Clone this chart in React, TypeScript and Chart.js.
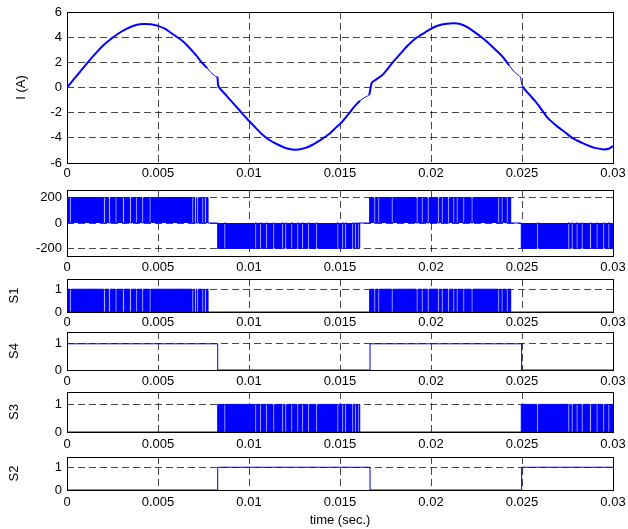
import React, { useEffect, useRef } from 'react';
import { Chart, registerables } from 'chart.js';

Chart.register(...registerables);

// ---------- data ----------
const X_TICKS = [0, 0.005, 0.01, 0.015, 0.02, 0.025, 0.03];
const X_TICK_LABELS = ['0', '0.005', '0.01', '0.015', '0.02', '0.025', '0.03'];

const I_TICKS = [-6, -4, -2, 0, 2, 4, 6];
const V_TICKS = [-200, 0, 200];
const S_TICKS = [0, 1];

// load current (A)
const I_TIME = [
  0, 0.0004, 0.0008, 0.0012, 0.0016, 0.002, 0.0025, 0.003, 0.0034, 0.0038, 0.0042, 0.0046, 0.005, 0.0054, 0.0058,
  0.0063, 0.0067, 0.0071, 0.0074, 0.0077, 0.0079, 0.00815, 0.00826,
  0.00832, 0.0087, 0.0091, 0.0095, 0.0099, 0.0103, 0.0107, 0.0111, 0.0116, 0.0121, 0.0126, 0.0131, 0.0135,
  0.014, 0.0144, 0.0148, 0.0151, 0.0155, 0.0158, 0.0161, 0.0164, 0.0166,
  0.01675, 0.017, 0.0173, 0.0176, 0.0179, 0.0183, 0.0187, 0.0192, 0.0197, 0.0201, 0.0206, 0.0212, 0.0216,
  0.022, 0.0224, 0.0229, 0.0234, 0.0239, 0.0243, 0.0246, 0.0249,
  0.02502, 0.0254, 0.0257, 0.026, 0.0264, 0.0269, 0.0274, 0.0278, 0.0283, 0.0287, 0.029, 0.0295, 0.0298, 0.03,
];
const I_AMPS = [
  0, 0.7, 1.4, 2.1, 2.75, 3.35, 3.95, 4.45, 4.75, 4.97, 5.05, 5.02, 4.9, 4.65, 4.25,
  3.75, 3.2, 2.55, 2.0, 1.55, 1.2, 0.9, 0.85,
  0.1, -0.55, -1.2, -1.85, -2.5, -3.1, -3.7, -4.15, -4.55, -4.85, -4.95, -4.8, -4.55,
  -4.1, -3.7, -3.15, -2.75, -2.05, -1.5, -1.05, -0.75, -0.6,
  0.4, 0.65, 0.95, 1.45, 2.0, 2.65, 3.3, 3.95, 4.4, 4.75, 5.0, 5.1, 5.05,
  4.8, 4.4, 3.85, 3.2, 2.5, 1.75, 1.2, 0.85,
  0.1, -0.55, -1.05, -1.6, -2.4, -3.05, -3.6, -4.05, -4.4, -4.65, -4.8, -4.92, -4.85, -4.65,
];

// PWM switching blocks (start, end) and visible wide off-gaps inside them
const BLOCK_A = [0.00005, 0.00775];
const GAPS_A = [0.00016, 0.00202, 0.00229, 0.00265, 0.00306, 0.00345, 0.00379, 0.00412, 0.00452, 0.00687, 0.00702, 0.00714, 0.00742, 0.00757];
const BLOCK_B = [0.00828, 0.01608];
const GAPS_B = [0.00863, 0.01033, 0.0106, 0.01093, 0.01132, 0.01181, 0.01198, 0.01231, 0.01264, 0.01291, 0.01324, 0.01368, 0.01484, 0.01511, 0.01527, 0.01566, 0.01582, 0.01599];
const BLOCK_C = [0.01663, 0.02438];
const GAPS_C = [0.01687, 0.01709, 0.01782, 0.01919, 0.01947, 0.0198, 0.02038, 0.02057, 0.02093, 0.02121, 0.02139, 0.02176, 0.02221, 0.02368, 0.02386, 0.02414];
const BLOCK_D = [0.02496, 0.03];
const GAPS_D = [0.02582, 0.02753, 0.02771, 0.02798, 0.02826, 0.02872, 0.02908, 0.02945, 0.02973];
const VDC = 200;
const GAP_W = 0.00009;

// low-frequency switches (value holds from each time to the next)
const S4_TIME = [0, 0.00828, 0.01665, 0.02498, 0.03];
const S4_VAL = [1, 0, 1, 0, 0];
const S2_TIME = [0, 0.00828, 0.01665, 0.02498, 0.03];
const S2_VAL = [0, 1, 0, 1, 1];

// ---------- styling ----------
const FONT = { family: '"Liberation Sans", Arial, sans-serif', size: 13 };
const BLUE = '#0000ff';
const GRID = 'rgba(0,0,0,0.72)';
const PAD_T = 10;
const PLOT_LEFT = 67;
const PAD_R = 15;
const W = 628;

type Block = { range: number[]; gaps: number[]; level: number };

// with stepped:'after' each interval takes the value of the point that ends it
function pwmPoints(blocks: Block[]) {
  const pts: { x: number; y: number }[] = [{ x: 0, y: 0 }];
  blocks.forEach((b) => {
    pts.push({ x: b.range[0], y: 0 });
    b.gaps.forEach((g) => {
      pts.push({ x: g, y: b.level });
      pts.push({ x: g + GAP_W, y: 0 });
    });
    pts.push({ x: b.range[1], y: b.level });
  });
  pts.push({ x: 0.03, y: 0 });
  return pts;
}

function pwmDataset(blocks: Block[]) {
  return {
    data: pwmPoints(blocks),
    stepped: 'after' as const,
    borderColor: BLUE,
    backgroundColor: BLUE,
    borderWidth: 1,
    fill: 'origin',
    pointRadius: 0,
  };
}

function stepDataset(times: number[], vals: number[]) {
  return {
    data: times.map((t, i) => ({ x: t, y: vals[i] })),
    stepped: 'before' as const,
    borderColor: BLUE,
    borderWidth: 1,
    fill: false,
    pointRadius: 0,
  };
}

const ALL_BLOCKS = [BLOCK_A, BLOCK_B, BLOCK_C, BLOCK_D];
function isQuiet(t: number) {
  return !ALL_BLOCKS.some((b) => t > b[0] && t < b[1]);
}

const currentDataset = {
  data: I_TIME.map((t, i) => ({ x: t, y: I_AMPS[i] })),
  borderColor: BLUE,
  borderWidth: 2,
  tension: 0.2,
  pointRadius: 0,
  fill: false,
  segment: {
    borderWidth: (ctx: any) => (isQuiet((ctx.p0.parsed.x + ctx.p1.parsed.x) / 2) ? 1 : 2),
  },
};

const boxPlugin = {
  id: 'box',
  beforeDatasetsDraw(chart: any) {
    const { left, right, top, bottom } = chart.chartArea;
    const ctx = chart.ctx;
    ctx.save();
    ctx.strokeStyle = '#000';
    ctx.lineWidth = 1;
    ctx.strokeRect(Math.round(left) + 0.5, Math.round(top) + 0.5, Math.round(right - left), Math.round(bottom - top));
    ctx.restore();
  },
};

type PanelProps = {
  top: number;
  bottom: number;
  xh: number;
  yMin: number;
  yMax: number;
  yTicks: number[];
  yLabel?: string;
  yLabelPad?: number;
  xPad: number;
  xTitle?: string;
  datasets: any[];
};

function Panel(p: PanelProps) {
  const ref = useRef<HTMLCanvasElement | null>(null);
  const height = PAD_T + (p.bottom - p.top) + p.xh;
  useEffect(() => {
    if (!ref.current) return;
    const chart = new Chart(ref.current, {
      type: 'line',
      data: { datasets: p.datasets },
      plugins: [boxPlugin],
      options: {
        animation: false,
        responsive: false,
        devicePixelRatio: 1,
        layout: { padding: { top: PAD_T, right: PAD_R, bottom: 0, left: 0 } },
        plugins: { legend: { display: false }, tooltip: { enabled: false } },
        elements: { point: { radius: 0 } },
        scales: {
          x: {
            type: 'linear',
            min: 0,
            max: 0.03,
            afterBuildTicks: (s: any) => {
              s.ticks = X_TICKS.map((v) => ({ value: v }));
            },
            afterFit: (s: any) => {
              s.height = p.xh;
              s.paddingLeft = 0;
              s.paddingRight = 0;
              s.paddingTop = 0;
              s.paddingBottom = 0;
            },
            ticks: {
              autoSkip: false,
              maxRotation: 0,
              padding: p.xPad,
              color: '#000',
              font: FONT,
              callback: (_v: any, i: number) => X_TICK_LABELS[i],
            },
            grid: { color: GRID, lineWidth: 1, drawTicks: false },
            border: { display: false, dash: [7, 4] },
            title: p.xTitle
              ? { display: true, text: p.xTitle, color: '#000', font: FONT, padding: { top: 0, bottom: 1 } }
              : { display: false },
          },
          y: {
            type: 'linear',
            min: p.yMin,
            max: p.yMax,
            afterBuildTicks: (s: any) => {
              s.ticks = p.yTicks.map((v) => ({ value: v }));
            },
            afterFit: (s: any) => {
              s.width = PLOT_LEFT;
              s.paddingLeft = 0;
              s.paddingRight = 0;
              s.paddingTop = 0;
              s.paddingBottom = 0;
            },
            ticks: {
              padding: 5,
              color: '#000',
              font: FONT,
              callback: (v: any) => String(v),
            },
            grid: { color: GRID, lineWidth: 1, drawTicks: false },
            border: { display: false, dash: [7, 4] },
            title: p.yLabel
              ? { display: true, text: p.yLabel, color: '#000', font: FONT, padding: { top: p.yLabelPad ?? 7, bottom: 0 } }
              : { display: false },
          },
        },
      } as any,
    });
    return () => chart.destroy();
  }, []);
  return (
    <canvas
      ref={ref}
      width={W}
      height={height}
      style={{ position: 'absolute', left: 0, top: p.top - PAD_T, width: W, height }}
    />
  );
}

export default function App() {
  const vBlocks: Block[] = [
    { range: BLOCK_A, gaps: GAPS_A, level: VDC },
    { range: BLOCK_B, gaps: GAPS_B, level: -VDC },
    { range: BLOCK_C, gaps: GAPS_C, level: VDC },
    { range: BLOCK_D, gaps: GAPS_D, level: -VDC },
  ];
  const s1Blocks: Block[] = [
    { range: BLOCK_A, gaps: GAPS_A, level: 1 },
    { range: BLOCK_C, gaps: GAPS_C, level: 1 },
  ];
  const s3Blocks: Block[] = [
    { range: BLOCK_B, gaps: GAPS_B, level: 1 },
    { range: BLOCK_D, gaps: GAPS_D, level: 1 },
  ];
  return (
    <div style={{ position: 'absolute', left: 0, top: 0, width: 628, height: 529, background: '#fff', overflow: 'hidden' }}>
      <Panel top={12} bottom={163} xh={22} yMin={-6} yMax={6} yTicks={I_TICKS} yLabel="I (A)" yLabelPad={14} xPad={3} datasets={[currentDataset]} />
      <Panel top={190} bottom={256} xh={22} yMin={-260} yMax={260} yTicks={V_TICKS} xPad={4} datasets={[pwmDataset(vBlocks)]} />
      <Panel top={279} bottom={312} xh={20} yMin={0} yMax={1.45} yTicks={S_TICKS} yLabel="S1" yLabelPad={7} xPad={3} datasets={[pwmDataset(s1Blocks)]} />
      <Panel top={332} bottom={370} xh={20} yMin={0} yMax={1.45} yTicks={S_TICKS} yLabel="S4" yLabelPad={7} xPad={4} datasets={[stepDataset(S4_TIME, S4_VAL)]} />
      <Panel top={392} bottom={432} xh={22} yMin={0} yMax={1.45} yTicks={S_TICKS} yLabel="S3" yLabelPad={7} xPad={5} datasets={[pwmDataset(s3Blocks)]} />
      <Panel top={457} bottom={490} xh={39} yMin={0} yMax={1.45} yTicks={S_TICKS} yLabel="S2" yLabelPad={7} xPad={5} xTitle="time (sec.)" datasets={[stepDataset(S2_TIME, S2_VAL)]} />
    </div>
  );
}
